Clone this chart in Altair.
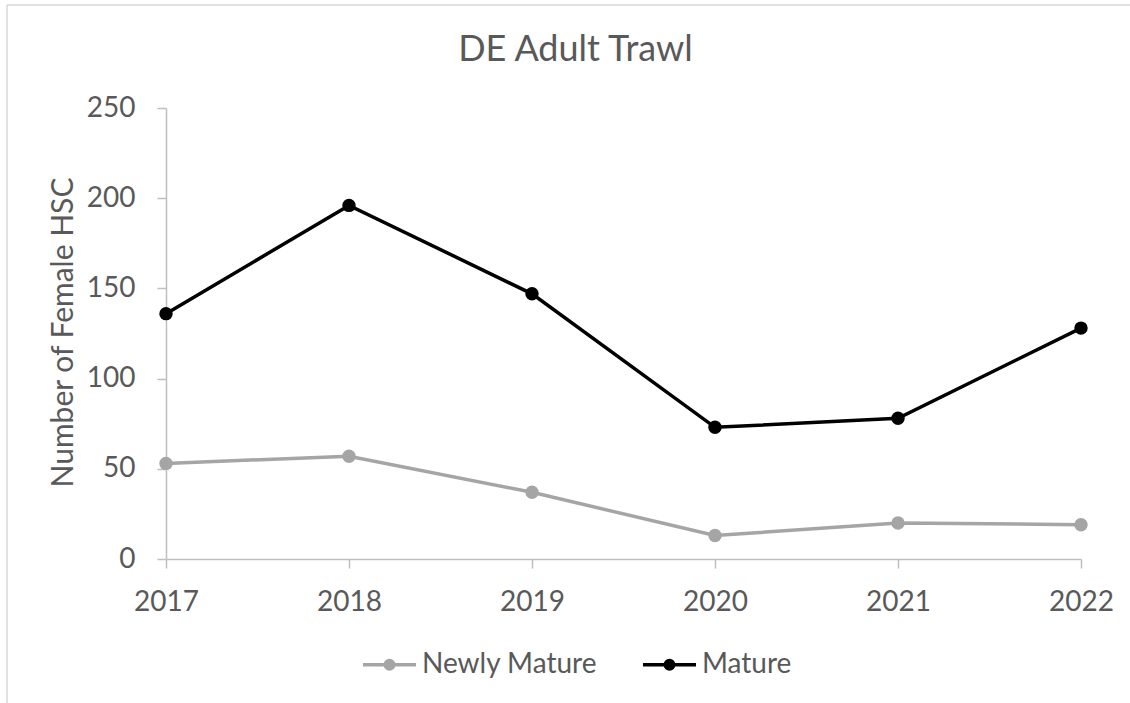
import altair as alt
import pandas as pd

# Survey years and counts of female horseshoe crabs per maturity class
years = [2017, 2018, 2019, 2020, 2021, 2022]
newly_mature = [53, 57, 37, 13, 20, 19]
mature = [136, 196, 147, 73, 78, 128]

series_names = ["Newly Mature", "Mature"]
series_colors = ["#a5a5a5", "#000000"]

rows = []
for yr, nm, m in zip(years, newly_mature, mature):
    rows.append({"year": yr, "series": "Newly Mature", "count": nm})
    rows.append({"year": yr, "series": "Mature", "count": m})
df = pd.DataFrame(rows)

FONT = "Lato"
TEXT = "#595959"
AXIS = "#bfbfbf"

# legend glyph: a short line with a dot in the middle
legend_glyph = (
    "M-1,0L1,0"
    "M-0.16,0A0.16,0.16 0 1,0 0.16,0A0.16,0.16 0 1,0 -0.16,0Z"
)

color = alt.Color(
    "series:N",
    scale=alt.Scale(domain=series_names, range=series_colors),
    sort=series_names,
    legend=alt.Legend(
        title=None,
        orient="none",
        direction="horizontal",
        legendX=195,
        legendY=528,
        symbolType=legend_glyph,
        symbolSize=2809,
        symbolStrokeWidth=3.5,
        symbolOpacity=1,
        labelFont=FONT,
        labelFontSize=28,
        labelColor=TEXT,
        labelOffset=4,
        labelLimit=400,
        columnPadding=38,
    ),
)

x = alt.X(
    "year:Q",
    scale=alt.Scale(domain=[2017, 2022], nice=False, zero=False),
    axis=alt.Axis(
        title=None,
        values=years,
        format="d",
        labelFlush=False,
        labelOverlap=False,
        grid=False,
        domainColor=AXIS,
        domainWidth=1.5,
        tickColor=AXIS,
        tickWidth=1.5,
        tickSize=9,
        labelFont=FONT,
        labelFontSize=28,
        labelColor=TEXT,
        labelPadding=20,
    ),
)

y = alt.Y(
    "count:Q",
    scale=alt.Scale(domain=[0, 250], nice=False),
    axis=alt.Axis(
        title="Number of Female HSC",
        values=[0, 50, 100, 150, 200, 250],
        grid=False,
        domainColor=AXIS,
        domainWidth=1.5,
        tickColor=AXIS,
        tickWidth=1.5,
        tickSize=9,
        labelFont=FONT,
        labelFontSize=28,
        labelColor=TEXT,
        labelPadding=22,
        titleFont=FONT,
        titleFontSize=30,
        titleFontWeight="normal",
        titleColor=TEXT,
        titleX=-94,
        titleY=224,
        titleBaseline="alphabetic",
        titleAngle=270,
    ),
)

lines = (
    alt.Chart(df)
    .mark_line(strokeWidth=3.5, point=alt.OverlayMarkDef(filled=True, size=180, opacity=1))
    .encode(x=x, y=y, color=color, order=alt.Order("year:Q"))
)

# chart-area frame (left and top edges)
frame_data = alt.Data(values=[{}])
frame_left = (
    alt.Chart(frame_data)
    .mark_rule(color="#d9d9d9", strokeWidth=1.5)
    .encode(x=alt.value(-159), y=alt.value(-103), y2=alt.value(600))
)
frame_top = (
    alt.Chart(frame_data)
    .mark_rule(color="#d9d9d9", strokeWidth=1.5)
    .encode(x=alt.value(-159), x2=alt.value(970), y=alt.value(-103))
)

chart = (
    alt.layer(frame_left, frame_top, lines)
    .properties(
        width=915,
        height=451,
        background="white",
        autosize=alt.AutoSizeParams(type="none"),
        padding={"left": 166, "top": 108, "right": 49, "bottom": 144},
        title=alt.TitleParams(
            "DE Adult Trawl",
            font=FONT,
            fontSize=36,
            fontWeight="normal",
            color=TEXT,
            anchor="middle",
            frame="group",
            dx=-48,
            offset=0,
            dy=93,
            baseline="alphabetic",
        ),
    )
    .configure_view(stroke="transparent", strokeWidth=0)
)

chart.save("out.html", embed_options={"renderer": "svg", "actions": False})
